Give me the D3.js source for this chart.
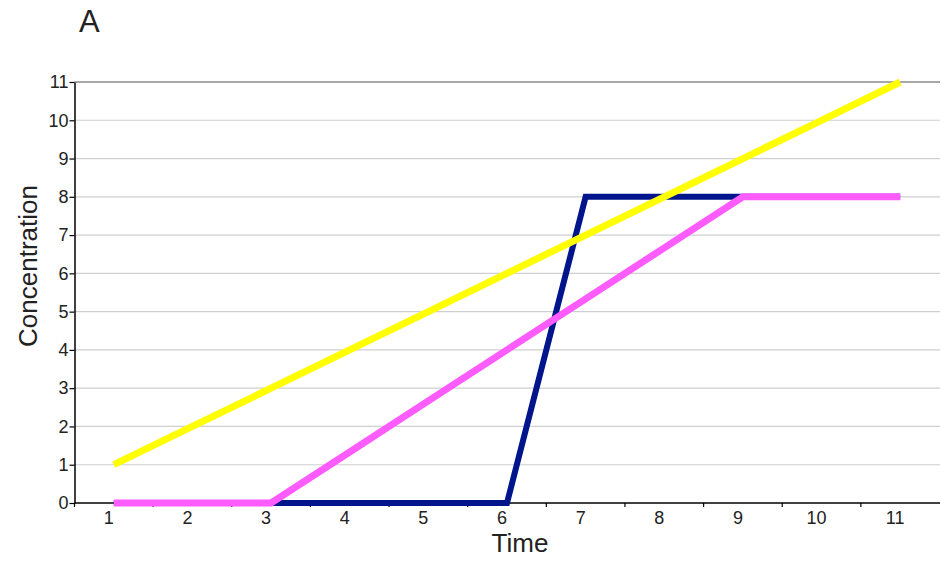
<!DOCTYPE html>
<html><head><meta charset="utf-8">
<script src="https://cdn.jsdelivr.net/npm/d3@7"></script>
<style>body{margin:0;background:#fff}svg{display:block}text{font-family:"Liberation Sans",Arial,sans-serif;fill:#222}</style>
</head><body><svg id="c" width="941" height="562"></svg>
<script>
const times = [1,2,3,4,5,6,7,8,9,10,11];
const yTicks = [0,1,2,3,4,5,6,7,8,9,10,11];
const blueSeries = [0,0,0,0,0,0,8,8,8,8,8];
const pinkSeries = [0,0,0,1.333,2.667,4,5.333,6.667,8,8,8];
const yellowSeries = [1,2,3,4,5,6,7,8,9,10,11];

const svg = d3.select("#c");
const L = 74.5, R = 939.5, T = 82, B = 503;
const x = d3.scaleBand().domain(times).range([L, R]).paddingInner(0).paddingOuter(0);
const y = d3.scaleLinear().domain([0, 11]).range([B, T]);
const cx = d => x(d) + x.bandwidth()/2;
const FONT = "Liberation Sans, Arial, sans-serif";

// gridlines
svg.append("g").selectAll("line").data(yTicks.filter(v=>v>0)).join("line")
  .attr("x1", L).attr("x2", 940).attr("y1", d=>y(d)).attr("y2", d=>y(d))
  .attr("stroke", d => d===11 ? "#8a8a8a" : "#cfcfcf").attr("stroke-width", d=>d===11?1.5:1.2);

// y axis
const ya = svg.append("g").attr("transform", `translate(${L},0)`)
  .call(d3.axisLeft(y).tickValues(yTicks).tickSize(5).tickPadding(1).tickSizeOuter(0));
ya.select(".domain").attr("stroke", "#000").attr("stroke-width", 1.5);
ya.selectAll(".tick line").attr("stroke", "#000").attr("stroke-width", 1.2);
ya.selectAll("text").attr("font-size", 18).attr("fill", "#222").attr("font-family", FONT);

// x axis
const xa = svg.append("g").attr("transform", `translate(0,${B})`)
  .call(d3.axisBottom(x).tickSize(0).tickPadding(8).tickSizeOuter(0));
xa.select(".domain").attr("stroke", "#000").attr("stroke-width", 1.5).attr("d", `M${L},0H940`);
xa.selectAll("text").attr("font-size", 18).attr("fill", "#222").attr("dx", -5).attr("font-family", FONT);
// boundary tick marks
xa.append("g").selectAll("line").data(times).join("line")
  .attr("x1", d=>x(d)).attr("x2", d=>x(d)).attr("y1", 0).attr("y2", 4)
  .attr("stroke", "#000").attr("stroke-width", 1.2);

// lines
const line = d3.line().x((d,i)=>cx(times[i])).y(d=>y(d));
const series = [
  {v: blueSeries, c: "#00148c", w: 6},
  {v: pinkSeries, c: "#ff5cff", w: 7},
  {v: yellowSeries, c: "#ffff00", w: 7}
];
svg.append("g").selectAll("path").data(series).join("path")
  .attr("d", d=>line(d.v)).attr("fill","none").attr("stroke", d=>d.c)
  .attr("stroke-width", d=>d.w).attr("stroke-linejoin","miter");

// titles
svg.append("text").attr("x", 79).attr("y", 32).attr("font-size", 31).text("A");
svg.append("text").attr("x", 520).attr("y", 552).attr("text-anchor","middle").attr("font-size", 26).text("Time");
svg.append("text").attr("transform", `translate(37,266) rotate(-90)`).attr("text-anchor","middle").attr("font-size", 26).text("Concentration");
</script></body></html>
